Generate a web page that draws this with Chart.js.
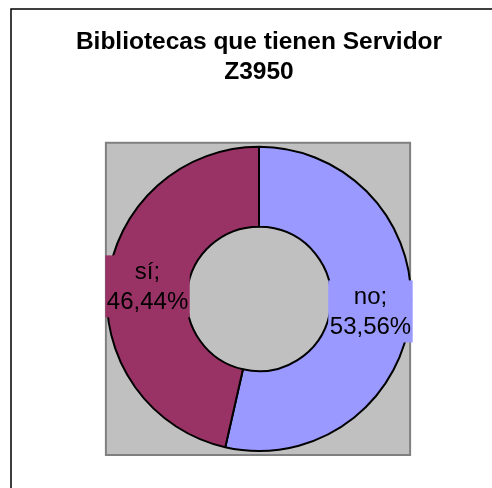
<!DOCTYPE html>
<html lang="es">
<head>
<meta charset="utf-8">
<title>Bibliotecas que tienen Servidor Z3950</title>
<script src="https://cdn.jsdelivr.net/npm/chart.js@4.4.1/dist/chart.umd.min.js"></script>
<style>
    html, body { margin: 0; padding: 0; background: #fff; }
    canvas { display: block; }
</style>
</head>
<body>
<canvas id="graficoZ3950" width="492" height="488"></canvas>
<script>
// Datos del gráfico
const categorias = ["no", "sí"];
const porcentajes = [53.56, 46.44];
const colores = ["#9999FF", "#993366"];
const titulo = ["Bibliotecas que tienen Servidor", "Z3950"];

const fuente = "'Liberation Sans', Arial, sans-serif";

// Marco exterior y fondo gris alrededor del anillo
const fondoPlugin = {
    id: "fondo",
    beforeDatasetsDraw(chart) {
        const { ctx } = chart;
        const arco = chart.getDatasetMeta(0).data[0];
        const r = arco.outerRadius;
        ctx.save();
        ctx.strokeStyle = "#000";
        ctx.lineWidth = 1.5;
        ctx.strokeRect(11, 9, chart.width, chart.height);
        ctx.fillStyle = "#C0C0C0";
        ctx.fillRect(arco.x - r - 1, arco.y - r - 4, 2 * r, 2 * r + 8);
        ctx.strokeStyle = "#808080";
        ctx.lineWidth = 2;
        ctx.strokeRect(arco.x - r - 1, arco.y - r - 4, 2 * r, 2 * r + 8);
        ctx.restore();
    }
};

// Etiquetas "categoría; porcentaje" con fondo del color de la porción
const etiquetasPlugin = {
    id: "etiquetas",
    afterDatasetsDraw(chart) {
        const { ctx } = chart;
        const arcos = chart.getDatasetMeta(0).data;
        ctx.save();
        ctx.font = "24px " + fuente;
        ctx.textAlign = "center";
        ctx.textBaseline = "alphabetic";
        arcos.forEach((arco, i) => {
            const { x, y } = arco.tooltipPosition();
            const linea1 = categorias[i] + ";";
            const linea2 = porcentajes[i].toFixed(2).replace(".", ",") + "%";
            const ancho = Math.max(ctx.measureText(linea1).width, ctx.measureText(linea2).width) + 3;
            ctx.fillStyle = colores[i];
            ctx.fillRect(x - ancho / 2, y - 31, ancho, 62);
            ctx.fillStyle = "#000";
            ctx.fillText(linea1, x, y - 7);
            ctx.fillText(linea2, x, y + 23);
        });
        ctx.restore();
    }
};

document.addEventListener("DOMContentLoaded", function () {
    const ctx = document.getElementById("graficoZ3950").getContext("2d");
    Chart.defaults.font.family = fuente;

    new Chart(ctx, {
        type: "doughnut",
        data: {
            labels: categorias,
            datasets: [{
                data: porcentajes,
                backgroundColor: colores,
                borderColor: "#000",
                borderWidth: 2
            }]
        },
        options: {
            responsive: false,
            animation: false,
            cutout: "47.5%",
            // área ancha para que el título no se comprima; el anillo queda centrado en x=259
            layout: { padding: { left: 52, right: 26, top: 0, bottom: 36 } },
            plugins: {
                legend: { display: false },
                tooltip: { enabled: false },
                title: {
                    display: true,
                    text: titulo,
                    color: "#000",
                    font: { size: 24.5, weight: "bold", lineHeight: 1.22 },
                    padding: { top: 27, bottom: 59 }
                }
            }
        },
        plugins: [fondoPlugin, etiquetasPlugin]
    });
});
</script>
</body>
</html>
